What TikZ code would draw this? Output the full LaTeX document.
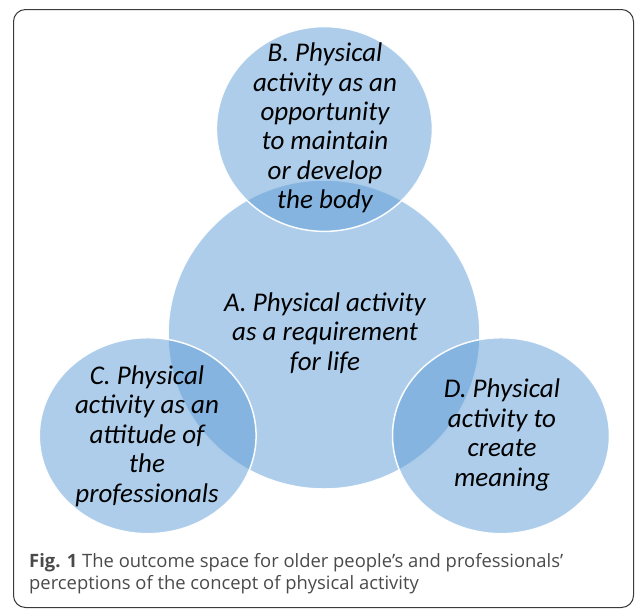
\documentclass[tikz,border=0pt]{standalone}
\usepackage{fontspec}
\setmainfont{Carlito}
\newfontfamily\capfont{Open Sans}
\definecolor{blobblue}{HTML}{5B9BD5}
\definecolor{framegray}{HTML}{3A3A3A}
\definecolor{capgray}{HTML}{4A4A4A}
\begin{document}
\begin{tikzpicture}[x=1pt,y=-1pt,
  bubble/.style={fill=blobblue, fill opacity=0.5, draw=white, draw opacity=0.95, line width=1.5pt},
  lab/.style={font=\fontsize{27}{29.4}\selectfont\itshape, align=center, text=black, inner sep=0pt},
  captxt/.style={font=\capfont\fontsize{18.4}{22}\selectfont, text=capgray, anchor=base west, inner sep=0pt}]
\useasboundingbox (0,0) rectangle (637,613);
\draw[rounded corners=12pt, draw=framegray, line width=1pt] (13.5,9.5) rectangle (633.5,607.5);
% circles
\path[bubble] (324,334.5) ellipse [x radius=156pt, y radius=154.5pt];
\path[bubble] (324.4,129) ellipse [x radius=108pt, y radius=102.4pt];
\path[bubble] (147.7,435.7) ellipse [x radius=108.4pt, y radius=98pt];
\path[bubble] (501,435.7) ellipse [x radius=108.5pt, y radius=98pt];
% labels
\node[lab] (tB) at (325,128) {B. Physical\\activity as an\\opportunity\\to maintain\\or develop\\the body};
\node[lab] (tA) at (325,333) {A. Physical activity\\as a requirement\\for life};
\node[lab] (tC) at (147,436) {C. Physical\\activity as an\\attitude of\\the\\professionals};
\node[lab] (tD) at (502,435) {D. Physical\\activity to\\create\\meaning};
% caption
\node[captxt] (cap1) at (29,567.5) {\textbf{Fig. 1} The outcome space for older people’s and professionals’};
\node[captxt] (cap2) at (29,589.5) {perceptions of the concept of physical activity};
\end{tikzpicture}
\end{document}
